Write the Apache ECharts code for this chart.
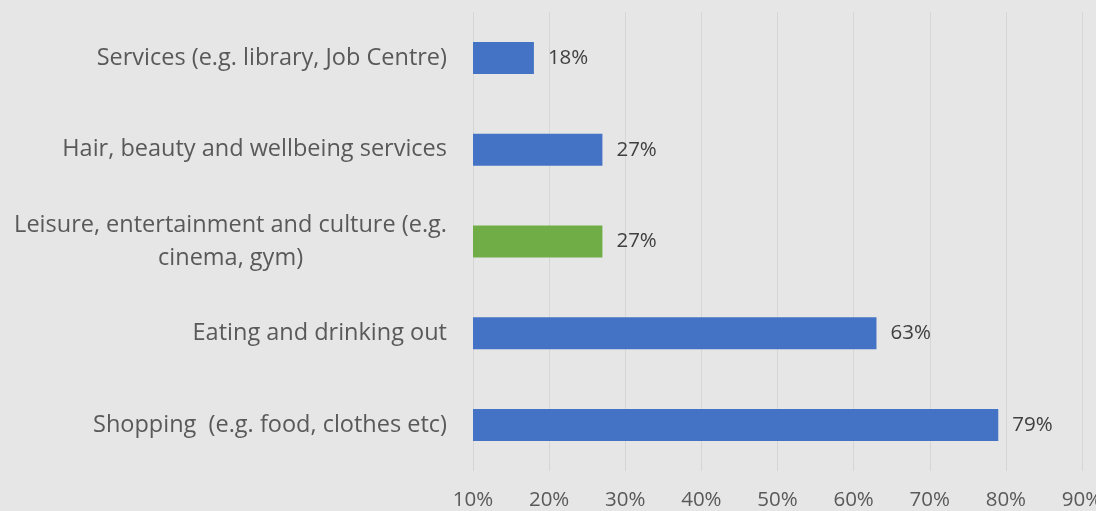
<!DOCTYPE html>
<html>
<head>
<meta charset="utf-8">
<script src="https://cdn.jsdelivr.net/npm/echarts@6/dist/echarts.min.js"></script>
<style>
  html, body { margin: 0; padding: 0; background: #e6e6e6; }
  #chart { width: 1096px; height: 511px; }
</style>
</head>
<body>
<div id="chart"></div>
<script>
// Categories listed top to bottom
const categories = [
  'Services (e.g. library, Job Centre)',
  'Hair, beauty and wellbeing services',
  'Leisure, entertainment and culture (e.g.\ncinema, gym)',
  'Eating and drinking out',
  'Shopping  (e.g. food, clothes etc)'
];
// Share of respondents, percent
const values = [18, 27, 27, 63, 79];
// Value axis range and step
const axisMin = 10;
const axisMax = 90;
const axisStep = 10;
// Category drawn in the accent colour
const highlightCategory = 'Leisure, entertainment and culture (e.g.\ncinema, gym)';

const FONT = '"Open Sans", Lato, sans-serif';
const BLUE = '#4472C4';
const GREEN = '#70AD47';

const chart = echarts.init(document.getElementById('chart'), null, { renderer: 'canvas' });

chart.setOption({
  backgroundColor: '#e6e6e6',
  animation: false,
  grid: { left: 473, right: 14, top: 12, bottom: 40, containLabel: false, outerBoundsMode: 'none' },
  xAxis: {
    type: 'value',
    min: axisMin,
    max: axisMax,
    interval: axisStep,
    axisLine: { show: false },
    axisTick: { show: false },
    splitLine: { show: true, lineStyle: { color: '#d6d6d6', width: 1 } },
    axisLabel: {
      formatter: '{value}%',
      color: '#595959',
      fontFamily: FONT,
      fontSize: 20.5,
      margin: 19
    }
  },
  yAxis: {
    type: 'category',
    inverse: true,
    data: categories,
    axisLine: { show: false },
    axisTick: { show: false },
    splitLine: { show: false },
    axisLabel: {
      margin: 26,
      color: '#595959',
      fontFamily: FONT,
      fontSize: 23.5,
      lineHeight: 33,
      formatter: function (v) {
        return v.split('\n').map(function (line) { return '{c|' + line + '}'; }).join('\n');
      },
      rich: {
        c: {
          align: 'center',
          color: '#595959',
          fontFamily: FONT,
          fontSize: 23.5,
          lineHeight: 33
        }
      }
    }
  },
  series: [{
    type: 'bar',
    data: values,
    barWidth: 32,
    itemStyle: {
      color: function (p) { return categories[p.dataIndex] === highlightCategory ? GREEN : BLUE; }
    },
    label: {
      show: true,
      position: 'right',
      distance: 14,
      formatter: '{c}%',
      color: '#404040',
      fontFamily: FONT,
      fontSize: 20.5
    }
  }]
});
</script>
</body>
</html>
